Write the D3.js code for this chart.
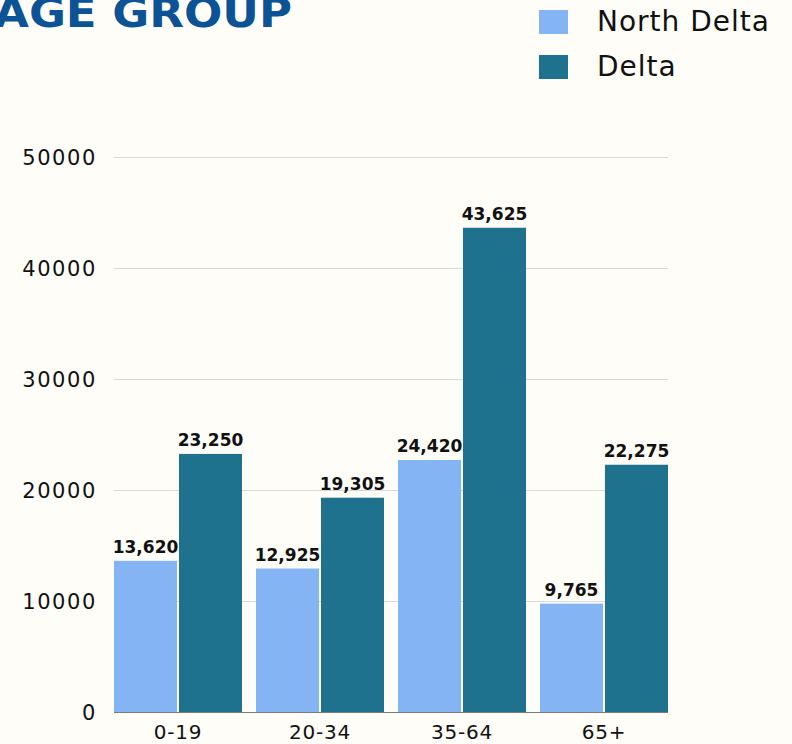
<!DOCTYPE html>
<html>
<head>
<meta charset="utf-8">
<script src="https://cdn.jsdelivr.net/npm/d3@7"></script>
<style>
  body { margin: 0; background: #fffdf8; }
  svg { display: block; font-family: "DejaVu Sans", sans-serif; }
</style>
</head>
<body>
<svg id="chart" width="792" height="744"></svg>
<script>
var groups = ['0-19', '20-34', '35-64', '65+'];
var seriesNames = ['North Delta', 'Delta'];
var colors = ['#85b4f5', '#1f728e'];
// bar heights as drawn in the picture
var northDelta = [13620, 12925, 22700, 9765];
var delta = [23250, 19305, 43625, 22275];
// labels as printed above the bars
var northDeltaLabels = ['13,620', '12,925', '24,420', '9,765'];
var deltaLabels = ['23,250', '19,305', '43,625', '22,275'];
var yTicks = [0, 10000, 20000, 30000, 40000, 50000];

var svg = d3.select('#chart');
var plotLeft = 114, plotRight = 668, plotTop = 157, plotBottom = 712;

var x0 = d3.scaleBand()
    .domain(groups)
    .range([plotLeft, plotRight])
    .paddingInner(14 / 142)
    .paddingOuter(0);

var x1 = d3.scaleBand()
    .domain(seriesNames)
    .range([0, x0.bandwidth()])
    .paddingInner(2 / 65)
    .paddingOuter(0);

var y = d3.scaleLinear()
    .domain([0, 50000])
    .range([plotBottom, plotTop]);

// gridlines
svg.append('g')
    .selectAll('line')
    .data(yTicks.slice(1))
    .enter()
    .append('line')
    .attr('x1', plotLeft)
    .attr('x2', plotRight)
    .attr('y1', d => y(d) + 0.5)
    .attr('y2', d => y(d) + 0.5)
    .attr('stroke', '#d9d9d9')
    .attr('stroke-width', 1);

// y labels
svg.append('g')
    .selectAll('text')
    .data(yTicks)
    .enter()
    .append('text')
    .attr('x', plotLeft - 17)
    .attr('y', d => y(d))
    .attr('dy', '0.36em')
    .attr('text-anchor', 'end')
    .attr('font-size', 21)
    .attr('letter-spacing', 1.6)
    .attr('fill', '#111')
    .text(d => d);

var rows = groups.map((g, i) => ({
    group: g,
    values: [
        {name: seriesNames[0], value: northDelta[i], label: northDeltaLabels[i]},
        {name: seriesNames[1], value: delta[i], label: deltaLabels[i]}
    ]
}));

var groupG = svg.append('g')
    .selectAll('g')
    .data(rows)
    .enter()
    .append('g')
    .attr('transform', d => `translate(${x0(d.group)},0)`);

groupG.selectAll('rect')
    .data(d => d.values)
    .enter()
    .append('rect')
    .attr('x', d => x1(d.name))
    .attr('y', d => y(d.value))
    .attr('width', x1.bandwidth())
    .attr('height', d => plotBottom - y(d.value))
    .attr('fill', (d, i) => colors[i]);

groupG.selectAll('text')
    .data(d => d.values)
    .enter()
    .append('text')
    .attr('x', d => x1(d.name) + x1.bandwidth() / 2)
    .attr('y', d => y(d.value) - 8)
    .attr('text-anchor', 'middle')
    .attr('font-size', 17)
    .attr('font-weight', 'bold')
    .attr('fill', '#111')
    .text(d => d.label);

// base line
svg.append('line')
    .attr('x1', plotLeft)
    .attr('x2', plotRight)
    .attr('y1', plotBottom + 0.5)
    .attr('y2', plotBottom + 0.5)
    .attr('stroke', '#7a7a7a')
    .attr('stroke-width', 1);

// x labels
svg.append('g')
    .selectAll('text')
    .data(groups)
    .enter()
    .append('text')
    .attr('x', d => x0(d) + x0.bandwidth() / 2)
    .attr('y', 739)
    .attr('text-anchor', 'middle')
    .attr('font-size', 20)
    .attr('letter-spacing', 0.8)
    .attr('fill', '#111')
    .text(d => d);

// title (cut off at the top left)
svg.append('text')
    .attr('x', -6)
    .attr('y', 27)
    .attr('font-size', 41)
    .attr('font-weight', 'bold')
    .attr('fill', '#0b5394')
    .attr('textLength', 298)
    .attr('lengthAdjust', 'spacingAndGlyphs')
    .text('AGE GROUP');

// legend
var legend = svg.append('g')
    .selectAll('g')
    .data(seriesNames)
    .enter()
    .append('g')
    .attr('transform', (d, i) => `translate(539,${10 + i * 45})`);

legend.append('rect')
    .attr('width', 29)
    .attr('height', 24)
    .attr('fill', (d, i) => colors[i]);

legend.append('text')
    .attr('x', 58)
    .attr('y', 21)
    .attr('font-size', 28)
    .attr('letter-spacing', 1)
    .attr('fill', '#111')
    .text(d => d);
</script>
</body>
</html>
